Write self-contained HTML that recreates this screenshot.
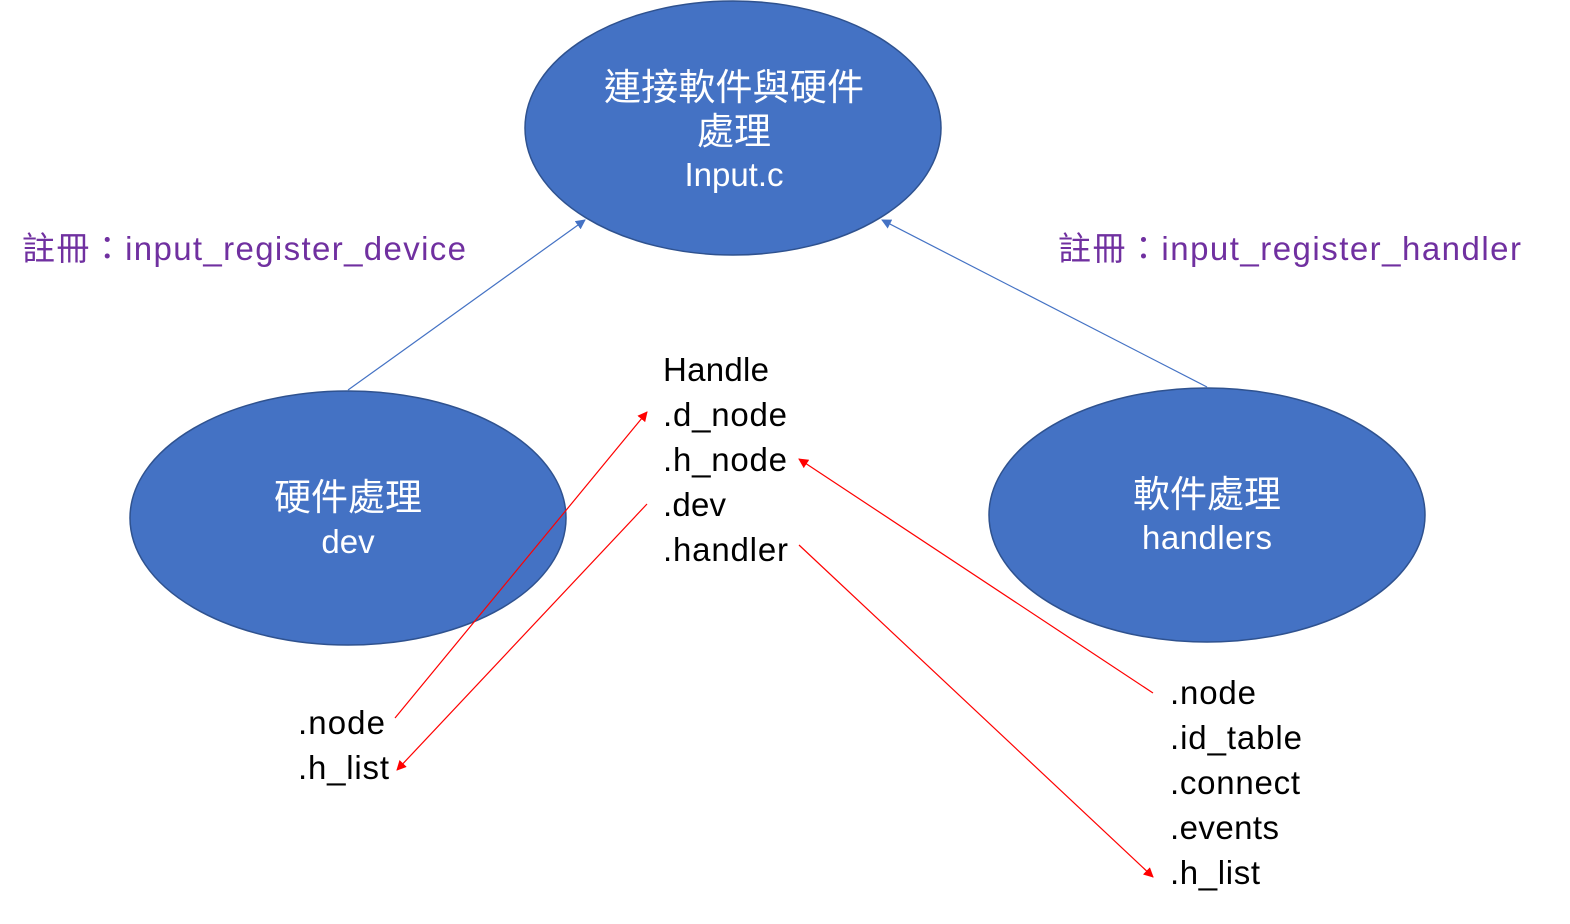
<!DOCTYPE html>
<html><head><meta charset="utf-8"><style>
html,body{margin:0;padding:0;background:#fff;}
svg text{font-family:"Liberation Sans","Noto Sans CJK TC",sans-serif;}
</style></head><body>
<svg width="1570" height="919" viewBox="0 0 1570 919" xmlns="http://www.w3.org/2000/svg">
<defs>
<marker id="ab" markerWidth="10" markerHeight="10" refX="9" refY="5" orient="auto" markerUnits="userSpaceOnUse"><path d="M0,0 L10,5 L0,10 z" fill="#4472C4"/></marker>
<marker id="ar" markerWidth="10" markerHeight="10" refX="9" refY="5" orient="auto" markerUnits="userSpaceOnUse"><path d="M0,0 L10,5 L0,10 z" fill="#FF0000"/></marker>
</defs>
<ellipse cx="733" cy="128" rx="208" ry="127" fill="#4472C4" stroke="#2F528F" stroke-width="1.5"/>
<ellipse cx="348" cy="518" rx="218" ry="127" fill="#4472C4" stroke="#2F528F" stroke-width="1.5"/>
<ellipse cx="1207" cy="515" rx="218" ry="127" fill="#4472C4" stroke="#2F528F" stroke-width="1.5"/>
<g fill="#fff" font-size="37" text-anchor="middle">
<text x="734" y="100" textLength="260">連接軟件與硬件</text>
<text x="734" y="144">處理</text>
<text x="734" y="186" font-size="33">Input.c</text>
<text x="348" y="510">硬件處理</text>
<text x="348" y="553" font-size="33">dev</text>
<text x="1207" y="507">軟件處理</text>
<text x="1207" y="549" font-size="33" textLength="130">handlers</text>
</g>
<g fill="#7030A0" font-size="33">
<text x="22" y="260" textLength="444">註冊：input_register_device</text>
<text x="1058" y="260" textLength="463">註冊：input_register_handler</text>
</g>
<line x1="348" y1="390" x2="585" y2="220" stroke="#4472C4" stroke-width="1.2" marker-end="url(#ab)"/>
<line x1="1207" y1="387" x2="882" y2="220" stroke="#4472C4" stroke-width="1.2" marker-end="url(#ab)"/>
<g stroke="#FF0000" stroke-width="1.2">
<line x1="395" y1="718" x2="647" y2="412" marker-end="url(#ar)"/>
<line x1="647" y1="504" x2="397" y2="770" marker-end="url(#ar)"/>
<line x1="1153" y1="693" x2="799" y2="459" marker-end="url(#ar)"/>
<line x1="799" y1="545" x2="1153" y2="877" marker-end="url(#ar)"/>
</g>
<g fill="#000" font-size="33">
<text x="663" y="381" textLength="106">Handle</text>
<text x="663" y="426" textLength="124">.d_node</text>
<text x="663" y="471" textLength="124">.h_node</text>
<text x="663" y="516" textLength="63">.dev</text>
<text x="663" y="561" textLength="125">.handler</text>
<text x="298" y="734" textLength="87">.node</text>
<text x="298" y="779" textLength="91">.h_list</text>
<text x="1170" y="704" textLength="86">.node</text>
<text x="1170" y="749" textLength="132">.id_table</text>
<text x="1170" y="794" textLength="130">.connect</text>
<text x="1170" y="839" textLength="109">.events</text>
<text x="1170" y="884" textLength="90">.h_list</text>
</g>
</svg>
</body></html>
